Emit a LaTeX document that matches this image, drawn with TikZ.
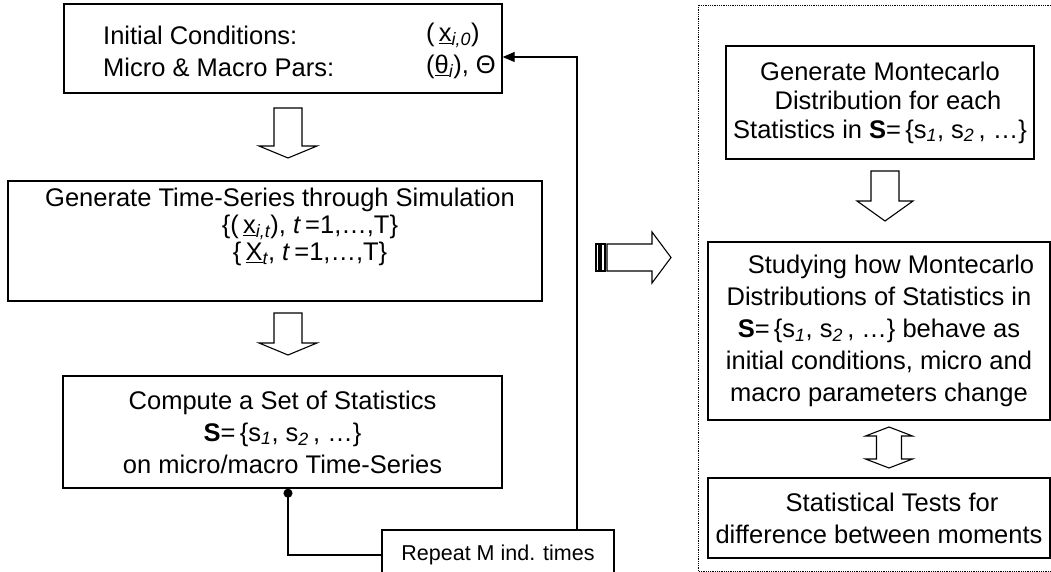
\documentclass[tikz,border=0pt]{standalone}
\usepackage{fontspec}
\setmainfont{Liberation Sans}
\usetikzlibrary{arrows.meta}

\tikzset{
  box/.style={draw, line width=1.4pt, inner sep=0pt},
  txt/.style={font=\fontsize{25.5}{32}\selectfont, align=center, inner sep=0pt},
  blockarrow/.style={draw, line width=1.1pt, fill=white},
}
\newcommand{\statset}{\textbf{S}=\,\{s\textsubscript{\itshape 1}, s\textsubscript{\itshape 2}\,, …\}}

\begin{document}
\begin{tikzpicture}[x=1pt,y=-1pt]
\path[use as bounding box, clip] (0,0) rectangle (1051,572);

% left column
\node[box, minimum width=438pt, minimum height=89pt] (init) at (283,48.5) {};
\node[txt, align=left, anchor=west] (initlbl) at (103,51) {Initial Conditions:\\Micro \& Macro Pars:};
\node[txt, align=left, anchor=west] (initval) at (426,51) {(\,\underline{x}\textsubscript{\itshape i,0})\\(\underline{θ}\textsubscript{\itshape i}), Θ};

\draw[blockarrow] (274,108) -- (302,108) -- (302,146) -- (317,146) -- (288,158) -- (259,146) -- (274,146) -- cycle;

\node[box, minimum width=534pt, minimum height=120pt] (gen) at (275,241) {};
\node[txt, font=\fontsize{25.5}{27}\selectfont] (gentxt) at (280,227) {Generate Time-Series through Simulation\\
  \hspace*{60pt}\{(\,\underline{x}\textsubscript{\itshape i,t}), \textit{t}\,=1,…,T\}\\
  \hspace*{60pt}\{\,\underline{X}\textsubscript{\itshape t}, \textit{t}\,=1,…,T\}};

\draw[blockarrow] (274,313) -- (302,313) -- (302,343) -- (317,343) -- (288,355) -- (259,343) -- (274,343) -- cycle;

\node[box, txt, minimum width=439pt, minimum height=112pt] (comp) at (282.5,432) {Compute a Set of Statistics\\\statset\\on micro/macro Time-Series};

\node[box, font=\fontsize{21.5}{26}\selectfont, minimum width=232pt, minimum height=50pt] (repeat) at (498,555) {Repeat M ind. times};

% loop back
\coordinate (tap) at (288,0);
\coordinate (back) at (577,57);
\draw[line width=1.2pt, {Circle[length=9pt]}-] (comp.south -| tap) |- (repeat.west);
\draw[line width=1.2pt, -{Triangle[length=12pt,width=10pt]}] (repeat.north -| back) -- (back) -- (init.east |- back);

% middle arrow
\draw[blockarrow] (596,244) rectangle (599,271);
\draw[blockarrow] (601,244) rectangle (605,271);
\draw[blockarrow] (607,244) -- (652,244) -- (652,232) -- (671,257.5) -- (652,283) -- (652,271) -- (607,271) -- cycle;

% right column
\draw[densely dotted, line width=0.8pt] (698,5) rectangle (1060,571);

\node[box, txt, font=\fontsize{25.5}{29}\selectfont, minimum width=308pt, minimum height=113pt] (mcgen) at (880,102.5) {Generate Montecarlo\\\hspace*{16pt}Distribution for each\\Statistics in \statset};

\draw[blockarrow] (871,171) -- (899,171) -- (899,201) -- (913,201) -- (885,221) -- (857,201) -- (871,201) -- cycle;

\node[box, txt, minimum width=342pt, minimum height=178pt] (study) at (879,331) {\hspace*{24pt}Studying how Montecarlo\\Distributions of Statistics in\\\statset{} behave as\\initial conditions, micro and\\macro parameters change};

\draw[blockarrow] (889,427) -- (912.5,436) -- (901.5,436) -- (901.5,459) -- (912.5,459) -- (889,468) -- (865.5,459) -- (876.5,459) -- (876.5,436) -- (865.5,436) -- cycle;

\node[box, txt, minimum width=342pt, minimum height=80pt] (tests) at (879,518) {\hspace*{26pt}Statistical Tests for\\difference between moments};
\end{tikzpicture}
\end{document}
